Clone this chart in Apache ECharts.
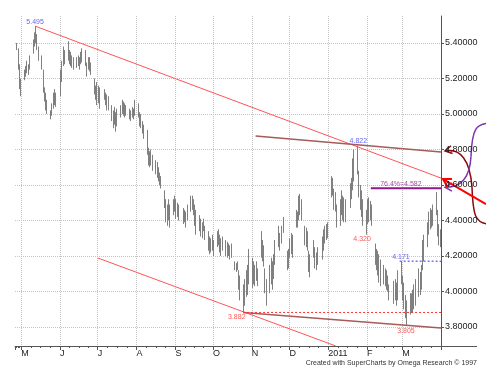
<!DOCTYPE html>
<html>
<head>
<meta charset="utf-8">
<script src="https://cdn.jsdelivr.net/npm/echarts@6/dist/echarts.min.js"></script>
<style>
  html, body { margin: 0; padding: 0; background: #fff; }
  #chart { width: 486px; height: 378px; }
</style>
</head>
<body>
<div id="chart"></div>
<script>
// daily bars (high / low)
var dates = [
  '2010-04-27','2010-04-28','2010-04-29','2010-04-30',
  '2010-05-03','2010-05-04','2010-05-05','2010-05-06','2010-05-07',
  '2010-05-10','2010-05-11','2010-05-12','2010-05-13','2010-05-14',
  '2010-05-17','2010-05-18','2010-05-19','2010-05-20','2010-05-21',
  '2010-05-24','2010-05-25','2010-05-26','2010-05-27','2010-05-28',
  '2010-06-01','2010-06-02','2010-06-03','2010-06-04',
  '2010-06-07','2010-06-08','2010-06-09','2010-06-10','2010-06-11',
  '2010-06-14','2010-06-15','2010-06-16','2010-06-17','2010-06-18',
  '2010-06-21','2010-06-22','2010-06-23','2010-06-24','2010-06-25',
  '2010-06-28','2010-06-29','2010-06-30','2010-07-01','2010-07-02',
  '2010-07-06','2010-07-07','2010-07-08','2010-07-09',
  '2010-07-12','2010-07-13','2010-07-14','2010-07-15','2010-07-16',
  '2010-07-19','2010-07-20','2010-07-21','2010-07-22','2010-07-23',
  '2010-07-26','2010-07-27','2010-07-28','2010-07-29','2010-07-30',
  '2010-08-02','2010-08-03','2010-08-04','2010-08-05','2010-08-06',
  '2010-08-09','2010-08-10','2010-08-11','2010-08-12','2010-08-13',
  '2010-08-16','2010-08-17','2010-08-18','2010-08-19','2010-08-20',
  '2010-08-23','2010-08-24','2010-08-25','2010-08-26','2010-08-27',
  '2010-08-30','2010-08-31','2010-09-01','2010-09-02','2010-09-03',
  '2010-09-07','2010-09-08','2010-09-09','2010-09-10',
  '2010-09-13','2010-09-14','2010-09-15','2010-09-16','2010-09-17',
  '2010-09-20','2010-09-21','2010-09-22','2010-09-23','2010-09-24',
  '2010-09-27','2010-09-28','2010-09-29','2010-09-30','2010-10-01',
  '2010-10-04','2010-10-05','2010-10-06','2010-10-07','2010-10-08',
  '2010-10-11','2010-10-12','2010-10-13','2010-10-14','2010-10-15',
  '2010-10-18','2010-10-19','2010-10-20','2010-10-21','2010-10-22',
  '2010-10-25','2010-10-26','2010-10-27','2010-10-28','2010-10-29',
  '2010-11-01','2010-11-02','2010-11-03','2010-11-04','2010-11-05',
  '2010-11-08','2010-11-09','2010-11-10','2010-11-11','2010-11-12',
  '2010-11-15','2010-11-16','2010-11-17','2010-11-18','2010-11-19',
  '2010-11-22','2010-11-23','2010-11-24','2010-11-26',
  '2010-11-29','2010-11-30','2010-12-01','2010-12-02','2010-12-03',
  '2010-12-06','2010-12-07','2010-12-08','2010-12-09','2010-12-10',
  '2010-12-13','2010-12-14','2010-12-15','2010-12-16','2010-12-17',
  '2010-12-20','2010-12-21','2010-12-22','2010-12-23',
  '2010-12-27','2010-12-28','2010-12-29','2010-12-30','2010-12-31',
  '2011-01-03','2011-01-04','2011-01-05','2011-01-06','2011-01-07',
  '2011-01-10','2011-01-11','2011-01-12','2011-01-13','2011-01-14',
  '2011-01-18','2011-01-19','2011-01-20','2011-01-21',
  '2011-01-24','2011-01-25','2011-01-26','2011-01-27','2011-01-28',
  '2011-01-31','2011-02-01','2011-02-02','2011-02-03','2011-02-04',
  '2011-02-07','2011-02-08','2011-02-09','2011-02-10','2011-02-11',
  '2011-02-14','2011-02-15','2011-02-16','2011-02-17','2011-02-18',
  '2011-02-22','2011-02-23','2011-02-24','2011-02-25',
  '2011-02-28','2011-03-01','2011-03-02','2011-03-03','2011-03-04',
  '2011-03-07','2011-03-08','2011-03-09','2011-03-10','2011-03-11',
  '2011-03-14','2011-03-15','2011-03-16','2011-03-17','2011-03-18',
  '2011-03-21','2011-03-22','2011-03-23','2011-03-24','2011-03-25',
  '2011-03-28','2011-03-29','2011-03-30','2011-03-31'
];
var highs = [
  5.40,5.37,5.28,5.20,
  5.25,5.27,5.30,5.28,5.33,
  5.42,5.46,5.495,5.45,5.38,
  5.33,5.25,5.15,5.12,5.08,
  5.02,5.06,5.12,5.14,5.12,
  5.25,5.30,5.38,5.36,
  5.41,5.36,5.35,5.33,5.32,
  5.32,5.33,5.32,5.35,5.37,
  5.36,5.29,5.32,5.32,5.29,
  5.20,5.16,5.18,5.16,5.15,
  5.14,5.12,5.11,5.10,
  5.05,5.02,5.04,5.01,5.03,
  5.05,5.08,5.07,5.06,5.05,
  5.03,5.02,5.04,5.03,5.08,
  5.06,5.01,5.00,4.96,4.94,
  4.91,4.81,4.79,4.80,4.77,
  4.74,4.73,4.70,4.67,4.65,
  4.57,4.52,4.49,4.52,4.49,
  4.52,4.54,4.52,4.50,4.49,
  4.47,4.46,4.45,4.49,
  4.54,4.54,4.52,4.49,4.46,
  4.43,4.41,4.39,4.41,4.37,
  4.34,4.31,4.30,4.32,4.29,
  4.34,4.35,4.32,4.30,4.31,
  4.29,4.28,4.27,4.26,4.27,
  4.17,4.16,4.17,4.12,4.09,
  4.04,4.07,4.12,4.15,4.24,
  4.19,4.17,4.15,4.17,4.13,
  4.34,4.29,4.26,4.13,4.07,
  4.15,4.19,4.17,4.21,4.29,
  4.37,4.33,4.37,4.42,
  4.23,4.24,4.30,4.33,4.32,
  4.46,4.45,4.54,4.55,4.52,
  4.37,4.36,4.34,4.23,4.21,
  4.29,4.25,4.22,4.25,
  4.31,4.35,4.37,4.38,4.39,
  4.65,4.64,4.58,4.56,4.49,
  4.52,4.57,4.54,4.53,4.52,
  4.61,4.64,4.75,4.80,
  4.822,4.68,4.60,4.57,4.52,
  4.46,4.52,4.53,4.51,4.49,
  4.27,4.24,4.23,4.21,4.18,
  4.15,4.13,4.12,4.09,4.04,
  4.06,4.07,4.05,4.12,
  4.171,4.09,4.05,3.98,3.95,
  3.99,3.99,4.01,4.04,4.07,
  4.13,4.11,4.15,4.29,4.32,
  4.39,4.45,4.47,4.46,4.49,
  4.56,4.46,4.38,4.35
];
var lows = [
  5.36,5.25,5.14,5.10,
  5.19,5.21,5.23,5.22,5.25,
  5.34,5.38,5.40,5.36,5.30,
  5.25,5.12,5.07,5.02,5.00,
  4.97,4.99,5.03,5.05,5.04,
  5.10,5.18,5.27,5.28,
  5.30,5.28,5.27,5.26,5.25,
  5.26,5.27,5.25,5.28,5.29,
  5.27,5.21,5.25,5.24,5.22,
  5.11,5.08,5.05,5.06,5.03,
  5.08,5.05,5.02,5.02,
  4.96,4.92,4.94,4.90,4.93,
  4.98,5.00,4.99,4.98,4.99,
  4.97,4.96,4.98,4.97,4.99,
  4.98,4.93,4.92,4.89,4.86,
  4.77,4.71,4.70,4.71,4.68,
  4.66,4.64,4.62,4.60,4.58,
  4.47,4.39,4.37,4.40,4.36,
  4.43,4.45,4.41,4.42,4.40,
  4.38,4.39,4.36,4.40,
  4.45,4.46,4.43,4.37,4.32,
  4.34,4.31,4.30,4.34,4.29,
  4.23,4.21,4.22,4.23,4.20,
  4.25,4.26,4.22,4.20,4.23,
  4.20,4.19,4.20,4.18,4.19,
  4.12,4.11,4.12,4.01,3.95,
  3.882,3.92,3.97,3.98,4.04,
  4.02,4.04,4.03,4.06,4.03,
  4.19,4.17,4.14,3.99,3.92,
  3.99,4.04,4.01,4.07,4.15,
  4.25,4.23,4.27,4.33,
  4.12,4.13,4.19,4.21,4.19,
  4.36,4.36,4.40,4.43,4.40,
  4.26,4.25,4.23,4.11,4.08,
  4.19,4.13,4.12,4.15,
  4.18,4.23,4.27,4.29,4.30,
  4.53,4.54,4.46,4.45,4.36,
  4.37,4.43,4.40,4.39,4.39,
  4.47,4.52,4.57,4.62,
  4.66,4.53,4.46,4.42,4.37,
  4.32,4.38,4.39,4.40,4.37,
  4.15,4.12,4.09,4.05,4.03,
  4.04,4.03,4.01,4.00,3.95,
  3.93,3.95,3.92,3.95,
  4.04,3.95,3.90,3.85,3.805,
  3.87,3.88,3.88,3.90,3.92,
  3.97,3.98,4.01,4.12,4.17,
  4.25,4.32,4.35,4.36,4.37,
  4.43,4.31,4.26,4.25
];

// axis range
var xMin = '2010-04-26', xMax = '2011-04-01';
var yMin = 3.693, yMax = 5.552;
var monthLetters = ['J','F','M','A','M','J','J','A','S','O','N','D'];

// drawn lines: [date, price] end points
var upperRedLine = [['2010-05-12', 5.495], ['2011-04-01', 4.639]];
var upperBrownLine = [['2010-11-04', 4.876], ['2011-04-01', 4.786]];
var lowerRedLine = [['2010-07-01', 4.189], ['2011-01-07', 3.693]];
var lowerBrownLine = [['2010-10-25', 3.882], ['2011-04-01', 3.795]];
var fibLine = [['2011-02-04', 4.582], ['2011-04-01', 4.582]];
var lowDotted = [['2010-10-25', 3.882], ['2011-04-01', 3.882]];
var highDotted = [['2011-02-27', 4.171], ['2011-04-01', 4.171]];

// price notes: [date, price, text]
var blueNotes = [['2010-05-12', 5.495, '5.495'], ['2011-01-25', 4.822, '4.822'], ['2011-02-28', 4.171, '4.171']];
var redNotes = [['2011-01-28', 4.320, '4.320'], ['2010-10-20', 3.882, '3.882'], ['2011-03-04', 3.805, '3.805']];
var purpleNotes = [['2011-02-28', 4.582, '76.4%=4.582']];
var footer = 'Created with SuperCharts by Omega Research \u00a9 1997';

var FONT = '"Liberation Sans", Arial, sans-serif';
var ts = function(d) { return +new Date(d); };

var chart = echarts.init(document.getElementById('chart'));

var lineSeries = function(points, color, width, type) {
  return {
    type: 'line',
    data: points.map(function(p) { return [ts(p[0]), p[1]]; }),
    showSymbol: false,
    symbol: 'none',
    silent: true,
    z: 3,
    lineStyle: { color: color, width: width, type: type || 'solid' }
  };
};

var noteSeries = function(notes, color, position) {
  return {
    type: 'scatter',
    data: notes.map(function(n) { return [ts(n[0]), n[1], n[2]]; }),
    symbolSize: 0,
    silent: true,
    z: 5,
    label: {
      show: true,
      position: position,
      distance: 1,
      formatter: function(p) { return p.value[2]; },
      color: color,
      fontSize: 7,
      fontFamily: FONT
    }
  };
};

var option = {
  animation: false,
  useUTC: true,
  backgroundColor: '#fff',
  grid: { left: 15, right: 45, top: 16, bottom: 32 },
  xAxis: {
    type: 'time',
    min: ts(xMin),
    max: ts(xMax),
    splitNumber: 11,
    minInterval: 28 * 864e5,
    maxInterval: 31 * 864e5,
    axisLine: { lineStyle: { color: '#555', width: 1 } },
    axisTick: { length: 4, lineStyle: { color: '#555' } },
    minorTick: { show: true, splitNumber: 4, length: 2, lineStyle: { color: '#555' } },
    axisLabel: {
      align: 'left',
      margin: 3,
      fontSize: 9,
      color: '#222',
      fontFamily: FONT,
      showMinLabel: false,
      showMaxLabel: false,
      formatter: function(v) {
        var d = new Date(v);
        if (d.getUTCMonth() === 3) return '';
        return d.getUTCMonth() === 0 ? String(d.getUTCFullYear()) : monthLetters[d.getUTCMonth()];
      }
    },
    splitLine: { show: true, showMinLine: false, showMaxLine: false, lineStyle: { type: 'dotted', color: '#c4c4c4' } }
  },
  yAxis: {
    type: 'value',
    position: 'right',
    min: yMin,
    max: yMax,
    splitNumber: 9,
    axisLine: { show: true, lineStyle: { color: '#555' } },
    axisTick: { show: true, length: 3, lineStyle: { color: '#555' } },
    axisLabel: {
      margin: 4,
      fontSize: 9,
      color: '#222',
      fontFamily: FONT,
      showMinLabel: false,
      showMaxLabel: false,
      formatter: function(v) { return v.toFixed(5); }
    },
    splitLine: { show: true, showMinLine: false, showMaxLine: false, lineStyle: { type: 'dotted', color: '#c4c4c4' } }
  },
  series: [
    {
      type: 'custom',
      data: dates.map(function(d, i) { return [ts(d), highs[i], lows[i]]; }),
      encode: { x: 0, y: [1, 2] },
      z: 2,
      renderItem: function(params, api) {
        var hi = api.coord([api.value(0), api.value(1)]);
        var lo = api.coord([api.value(0), api.value(2)]);
        var x = Math.round(hi[0]) + 0.5;
        return {
          type: 'line',
          shape: { x1: x, y1: hi[1], x2: x, y2: lo[1] },
          style: { stroke: '#808080', lineWidth: 1 }
        };
      }
    },
    lineSeries(upperRedLine, '#ff5555', 1),
    lineSeries(lowerRedLine, '#ff5555', 1),
    lineSeries(upperBrownLine, '#a65a5a', 1.5),
    lineSeries(lowerBrownLine, '#a65a5a', 1.5),
    lineSeries(fibLine, '#8b1a8b', 2),
    lineSeries(lowDotted, '#ff3333', 1, [2, 2]),
    lineSeries(highDotted, '#3333ff', 1, [2, 2]),
    noteSeries(blueNotes, '#3a3aff', 'top'),
    noteSeries(redNotes, '#ff3030', 'bottom'),
    noteSeries(purpleNotes, '#8b1a8b', 'top')
  ]
};

chart.setOption(option);

// arrows drawn outside the plot, pointing at the line ends
var arrowHead = function(tip, from, len) {
  var dx = from[0] - tip[0], dy = from[1] - tip[1];
  var d = Math.sqrt(dx * dx + dy * dy);
  var ux = dx / d, uy = dy / d, c = Math.cos(Math.PI / 6), s = Math.sin(Math.PI / 6);
  return [
    [tip[0] + len * (ux * c - uy * s), tip[1] + len * (ux * s + uy * c)],
    tip,
    [tip[0] + len * (ux * c + uy * s), tip[1] + len * (-ux * s + uy * c)]
  ];
};
var px = function(p) { return chart.convertToPixel({ gridIndex: 0 }, [ts(p[0]), p[1]]); };

var brownEnd = px(upperBrownLine[1]);
var redEnd = px(upperRedLine[1]);
var fibEnd = px(fibLine[1]);
var axisEnd = px([xMax, yMin]);

var bT = [brownEnd[0] + 4, brownEnd[1] - 1];
var pT = [fibEnd[0] + 4, fibEnd[1] - 1];
var rT = [redEnd[0] + 2, redEnd[1] + 1];
var rStart = [486, rT[1] + 25];

var graphics = [
  // dark red curl to the brown line
  { type: 'bezierCurve', shape: { x1: bT[0] + 1, y1: bT[1], cpx1: bT[0] + 15, cpy1: bT[1] - 3, cpx2: bT[0] + 25, cpy2: bT[1] + 9, x2: bT[0] + 27, y2: bT[1] + 36 },
    style: { stroke: '#8b0a0a', lineWidth: 1.5, fill: 'none' } },
  { type: 'bezierCurve', shape: { x1: bT[0] + 27, y1: bT[1] + 36, cpx1: bT[0] + 28, cpy1: bT[1] + 64, cpx2: bT[0] + 30, cpy2: bT[1] + 73, x2: 490, y2: bT[1] + 73 },
    style: { stroke: '#8b0a0a', lineWidth: 1.5, fill: 'none' } },
  { type: 'polyline', shape: { points: arrowHead(bT, [bT[0] + 15, bT[1] - 3], 8) },
    style: { stroke: '#8b0a0a', lineWidth: 1.5, fill: 'none' } },
  // purple curl to the 76.4% level
  { type: 'bezierCurve', shape: { x1: pT[0] + 1, y1: pT[1], cpx1: pT[0] + 17, cpy1: pT[1], cpx2: pT[0] + 25, cpy2: pT[1] - 11, x2: pT[0] + 26, y2: pT[1] - 31 },
    style: { stroke: '#7a35b0', lineWidth: 1.5, fill: 'none' } },
  { type: 'bezierCurve', shape: { x1: pT[0] + 26, y1: pT[1] - 31, cpx1: pT[0] + 27, cpy1: pT[1] - 58, cpx2: pT[0] + 31, cpy2: pT[1] - 64, x2: 490, y2: pT[1] - 64 },
    style: { stroke: '#7a35b0', lineWidth: 1.5, fill: 'none' } },
  { type: 'polyline', shape: { points: arrowHead(pT, [pT[0] + 17, pT[1]], 8) },
    style: { stroke: '#7a35b0', lineWidth: 1.5, fill: 'none' } },
  // straight red arrow to the falling red line
  { type: 'line', shape: { x1: rStart[0], y1: rStart[1], x2: rT[0], y2: rT[1] },
    style: { stroke: '#ff0000', lineWidth: 2 } },
  { type: 'polyline', shape: { points: arrowHead(rT, rStart, 9) },
    style: { stroke: '#ff0000', lineWidth: 2, fill: 'none' } },
  // x axis line runs on under the price labels
  { type: 'line', shape: { x1: axisEnd[0], y1: Math.round(axisEnd[1]) + 0.5, x2: 477, y2: Math.round(axisEnd[1]) + 0.5 },
    style: { stroke: '#555', lineWidth: 1 } },
  { type: 'text', x: 477, y: 363,
    style: { text: footer, align: 'right', verticalAlign: 'middle', fontSize: 7, fontFamily: FONT, fill: '#333' } }
];

chart.setOption({ graphic: graphics });
</script>
</body>
</html>
